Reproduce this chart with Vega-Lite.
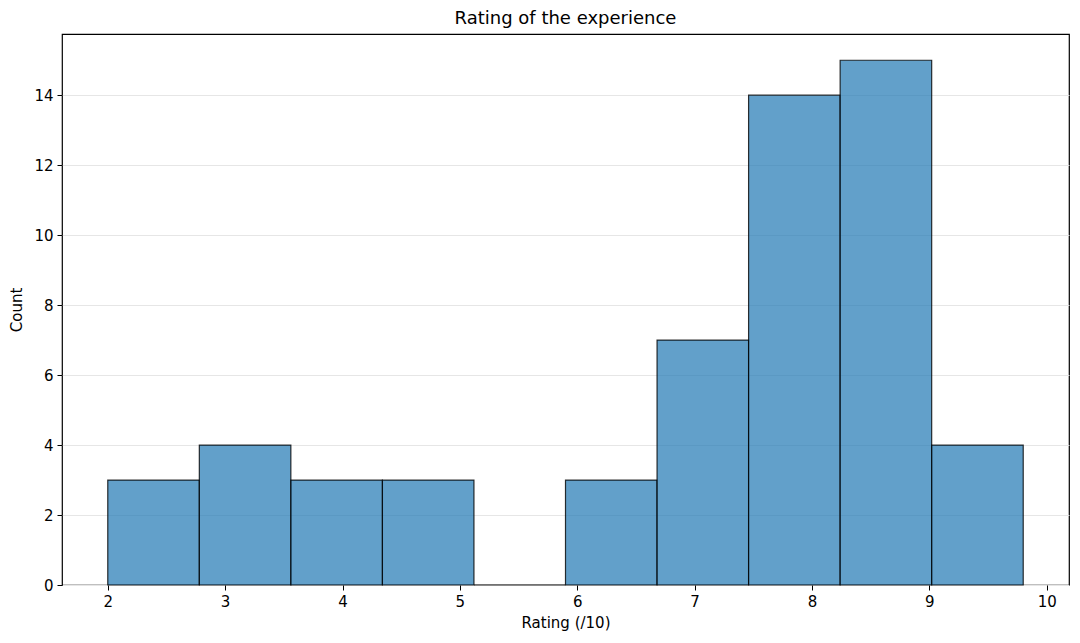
{
  "$schema": "https://vega.github.io/schema/vega-lite/v6.json",
  "width": 1007,
  "height": 551,
  "autosize": {"type": "none"},
  "padding": {"left": 62, "top": 34, "right": 11, "bottom": 58},
  "background": "white",
  "config": {
    "font": "DejaVu Sans",
    "view": {"stroke": "black", "strokeWidth": 1.2}
  },
  "title": {
    "text": "Rating of the experience",
    "fontSize": 18,
    "fontWeight": "normal",
    "color": "black",
    "offset": 6
  },
  "data": {
    "values": [
      {"start": 2.00, "end": 2.78, "count": 3},
      {"start": 2.78, "end": 3.56, "count": 4},
      {"start": 3.56, "end": 4.34, "count": 3},
      {"start": 4.34, "end": 5.12, "count": 3},
      {"start": 5.12, "end": 5.90, "count": 0},
      {"start": 5.90, "end": 6.68, "count": 3},
      {"start": 6.68, "end": 7.46, "count": 7},
      {"start": 7.46, "end": 8.24, "count": 14},
      {"start": 8.24, "end": 9.02, "count": 15},
      {"start": 9.02, "end": 9.80, "count": 4}
    ]
  },
  "mark": {
    "type": "rect",
    "fill": "#1f77b4",
    "fillOpacity": 0.7,
    "stroke": "black",
    "strokeOpacity": 0.8,
    "strokeWidth": 1.2
  },
  "encoding": {
    "x": {
      "field": "start",
      "type": "quantitative",
      "scale": {"domain": [1.61, 10.19], "nice": false, "zero": false},
      "axis": {
        "title": "Rating (/10)",
        "titleFontSize": 15,
        "titleFontWeight": "normal",
        "titleColor": "black",
        "titlePadding": 6,
        "values": [2, 3, 4, 5, 6, 7, 8, 9, 10],
        "format": "d",
        "labelFontSize": 15,
        "labelColor": "black",
        "labelPadding": 4,
        "tickColor": "black",
        "tickSize": 5,
        "domain": false,
        "grid": false
      }
    },
    "x2": {"field": "end"},
    "y": {
      "field": "count",
      "type": "quantitative",
      "scale": {"domain": [0, 15.75], "nice": false},
      "axis": {
        "title": "Count",
        "titleFontSize": 15,
        "titleFontWeight": "normal",
        "titleColor": "black",
        "titlePadding": 9,
        "values": [0, 2, 4, 6, 8, 10, 12, 14],
        "labelFontSize": 15,
        "labelColor": "black",
        "labelPadding": 4,
        "tickColor": "black",
        "tickSize": 5,
        "domain": false,
        "grid": true,
        "gridColor": "#e6e6e6",
        "gridWidth": 1
      }
    },
    "y2": {"datum": 0}
  }
}
